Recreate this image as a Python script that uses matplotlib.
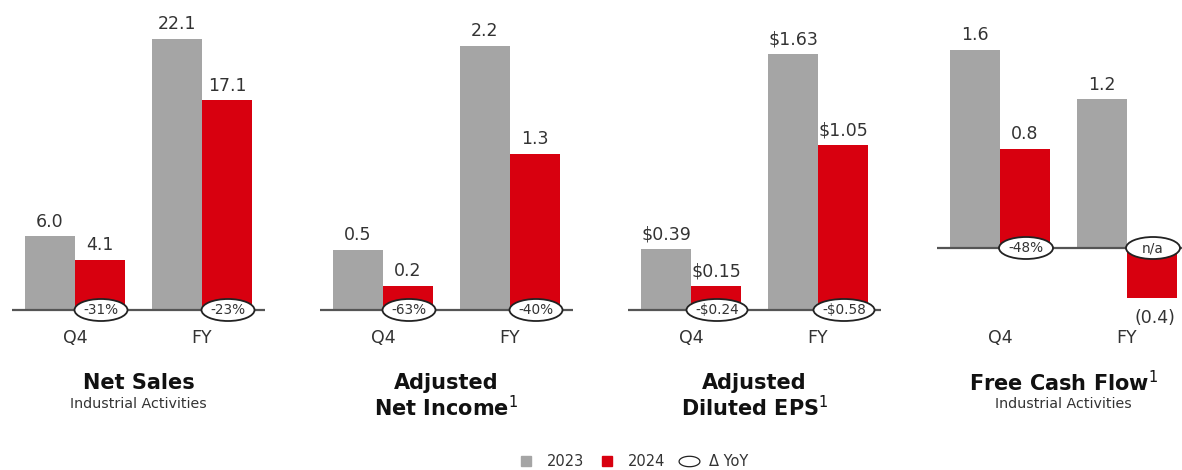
import numpy as np
import matplotlib
matplotlib.use('Agg')
import matplotlib.pyplot as plt
from matplotlib.patches import Ellipse
from matplotlib.lines import Line2D
from matplotlib.path import Path
from matplotlib import transforms

plt.rcParams['font.family'] = 'DejaVu Sans'

# --- data ---
periods = ['Q4', 'FY']
net_sales_2023 = [6.0, 22.1]
net_sales_2024 = [4.1, 17.1]
net_sales_yoy = ['-31%', '-23%']
adj_ni_2023 = [0.5, 2.2]
adj_ni_2024 = [0.2, 1.3]
adj_ni_yoy = ['-63%', '-40%']
eps_2023 = [0.39, 1.63]
eps_2024 = [0.15, 1.05]
eps_yoy = ['-\\$0.24', '-\\$0.58']
fcf_2023 = [1.6, 1.2]
fcf_2024 = [0.8, -0.4]
fcf_yoy = ['-48%', 'n/a']

GRAY = '#a5a5a5'
RED = '#d8000f'
TXT = '#333333'
W, H = 1182, 470
fig = plt.figure(figsize=(W / 100, H / 100), dpi=100)


def fmt_num(v):
    return f'({abs(v):.1f})' if v < 0 else f'{v:.1f}'


def fmt_eps(v):
    return f'\\${v:.2f}'


panels = [
    dict(a=net_sales_2023, b=net_sales_2024, yoy=net_sales_yoy, fmt=fmt_num,
         left=12, base=310, scale=12.27, ew=1.06,
         title=['Net Sales'], sub='Industrial Activities'),
    dict(a=adj_ni_2023, b=adj_ni_2024, yoy=adj_ni_yoy, fmt=fmt_num,
         left=320, base=310, scale=120, ew=1.06,
         title=['Adjusted', 'Net Income$^{1}$'], sub=None),
    dict(a=eps_2023, b=eps_2024, yoy=eps_yoy, fmt=fmt_eps,
         left=628, base=310, scale=157, ew=1.22,
         title=['Adjusted', 'Diluted EPS$^{1}$'], sub=None),
    dict(a=fcf_2023, b=fcf_2024, yoy=fcf_yoy, fmt=fmt_num,
         left=937, base=248, scale=124, ew=1.08,
         title=['Free Cash Flow$^{1}$'], sub='Industrial Activities'),
]

TOP, BOT, PW = 20, 330, 253
EH = 22  # ellipse height, px
x = np.array([0.0, 2.54])
for p in panels:
    ax = fig.add_axes([p['left'] / W, (H - BOT) / H, PW / W, (BOT - TOP) / H])
    ax.set_xlim(-1.26, 3.8)
    ax.set_ylim(-(BOT - p['base']) / p['scale'], (p['base'] - TOP) / p['scale'])
    ax.axis('off')
    ax.bar(x - 0.5, p['a'], width=1.0, color=GRAY, zorder=2)
    ax.bar(x + 0.5, p['b'], width=1.0, color=RED, zorder=2)
    ax.axhline(0, color='#555555', lw=1.6, zorder=3)
    for xi, va_, vb, yy in zip(x, p['a'], p['b'], p['yoy']):
        ax.annotate(p['fmt'](va_), (xi - 0.5, va_), xytext=(0, 4), textcoords='offset points',
                    ha='center', va='bottom', fontsize=12.5, color=TXT)
        if vb >= 0:
            ax.annotate(p['fmt'](vb), (xi + 0.5, vb), xytext=(0, 4), textcoords='offset points',
                        ha='center', va='bottom', fontsize=12.5, color=TXT)
        else:
            ax.annotate(p['fmt'](vb), (xi + 0.5, vb), xytext=(2, -8), textcoords='offset points',
                        ha='center', va='top', fontsize=12.5, color=TXT)
        ax.add_patch(Ellipse((xi + 0.52, 0), p['ew'], EH / p['scale'], fc='white',
                             ec='#222222', lw=1.3, zorder=4, clip_on=False))
        ax.text(xi + 0.52, 0, yy, ha='center', va='center', fontsize=9.8, color=TXT, zorder=5)
    tr = transforms.blended_transform_factory(ax.transData, fig.transFigure)
    for xi, lab in zip(x, periods):
        ax.text(xi, 1 - 338 / H, lab, transform=tr, ha='center', va='center',
                fontsize=12.5, color=TXT)
    cx = (p['left'] + PW / 2) / W
    for i, t in enumerate(p['title']):
        fig.text(cx, 1 - (383 + 25 * i) / H, t, ha='center', va='center',
                 fontsize=15, fontweight='bold', color='#111111')
    if p['sub']:
        fig.text(cx, 1 - 404 / H, p['sub'], ha='center', va='center',
                 fontsize=10.3, color=TXT)

# legend
t = np.linspace(0, 2 * np.pi, 60)
ell = Path(np.column_stack([np.cos(t), 0.5 * np.sin(t)]), closed=True)
handles = [
    Line2D([], [], ls='', marker='s', ms=7, mfc=GRAY, mec=GRAY),
    Line2D([], [], ls='', marker='s', ms=7, mfc=RED, mec=RED),
    Line2D([], [], ls='', marker=ell, ms=15, mfc='white', mec='#222222', mew=0.9),
]
fig.legend(handles, ['2023', '2024', 'Δ YoY'], loc='center', bbox_to_anchor=(633 / W, 1 - 462 / H),
           ncol=3, frameon=False, fontsize=10.5, handletextpad=0.8, columnspacing=1.0,
           labelcolor=TXT, handlelength=1.2)

fig.savefig('out.png', dpi=100, facecolor='white')
